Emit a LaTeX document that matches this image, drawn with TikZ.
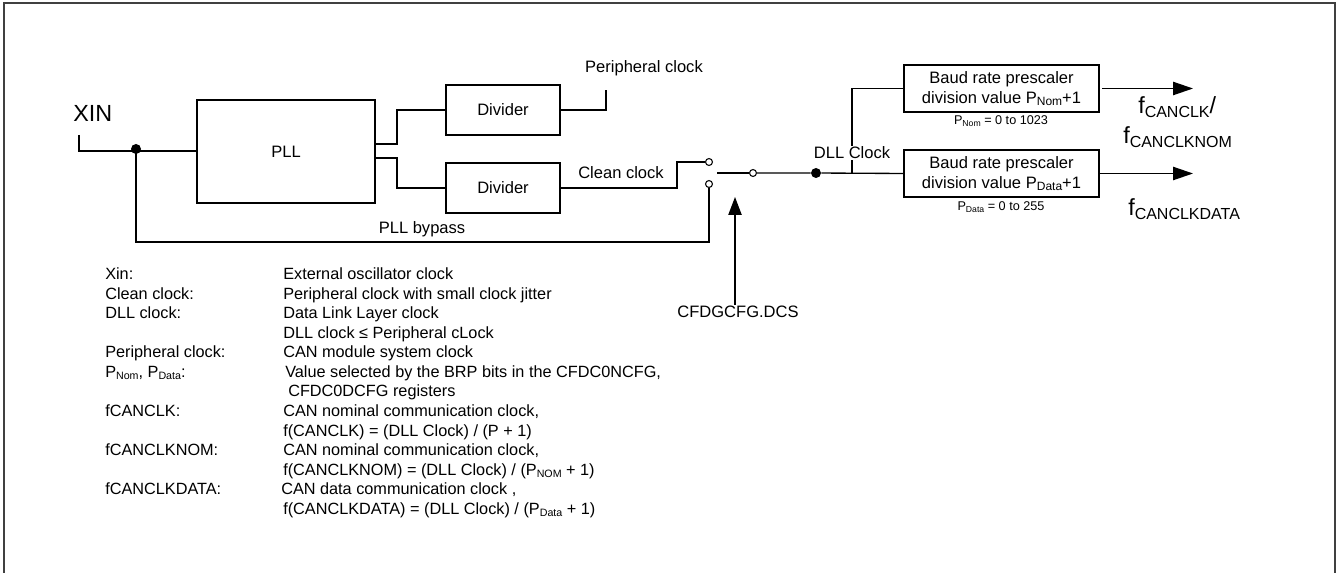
\documentclass[tikz,border=0pt]{standalone}
\usepackage{fontspec}
\setmainfont{Liberation Sans}
\usetikzlibrary{arrows.meta}
\newcommand{\lsub}[2]{\raisebox{-0.25ex}{\fontsize{#1}{#1}\selectfont #2}}
\begin{document}
\begin{tikzpicture}[x=0.75pt,y=-0.75pt,
  box/.style={draw, line width=1pt, fill=white, align=center, inner sep=0pt, font=\fontsize{12.4}{14.5}\selectfont},
  wire/.style={line width=1pt},
  lbl/.style={inner sep=1pt, font=\fontsize{12.4}{14.5}\selectfont},
  small/.style={inner sep=0pt, font=\fontsize{9.5}{11}\selectfont},
  leg/.style={anchor=base west, inner sep=0pt, font=\fontsize{12.2}{14}\selectfont},
  contact/.style={circle, draw, line width=0.8pt, fill=white, minimum size=5.2pt, inner sep=0pt},
  dot/.style={circle, fill=black, minimum size=7.5pt, inner sep=0pt},
  outlbl/.style={anchor=base west, inner sep=0pt, font=\fontsize{17.5}{19}\selectfont}
]
\useasboundingbox (0,0) rectangle (1338,573);
% frame
\draw[line width=1.5pt, black!75] (4,573) -- (4,3) -- (1335,3) -- (1335,573);

% blocks
\node[box, minimum width=133.5pt, minimum height=77.25pt] (pll) at (286,151.5) {PLL};
\node[box, minimum width=85.5pt, minimum height=37.5pt] (div1) at (503,110) {Divider};
\node[box, minimum width=85.5pt, minimum height=37.5pt] (div2) at (503,188) {Divider};
\node[box, minimum width=146.25pt, minimum height=35.25pt] (brp1) at (1001.5,88.5) {Baud rate prescaler\\division value P\lsub{9}{Nom}+1};
\node[box, minimum width=146.25pt, minimum height=35.25pt] (brp2) at (1001.5,173.5) {Baud rate prescaler\\division value P\lsub{9}{Data}+1};
\node[small] (rng1) at (1001,121) {P\lsub{6.5}{Nom} = 0 to 1023};
\node[small] (rng2) at (1001,207) {P\lsub{6.5}{Data} = 0 to 255};

% XIN input
\node[anchor=base west, inner sep=0pt, font=\fontsize{17.5}{20}\selectfont] (xin) at (73,122) {XIN};
\coordinate (xtop) at (79,135);
\coordinate (xjn) at (136,151);
\draw[wire] (xtop) -- (79,151) -- (pll.west |- xjn);
\node[dot] (jdot) at (136,149) {};

% PLL outputs
\draw[wire] (375,144) -- (397,144) -- (397,110) -- (div1.west);
\draw[wire] (375,158) -- (397,158) -- (397,188) -- (div2.west);

% Divider 1 output
\coordinate (pcend) at (606,90);
\draw[wire] (div1.east) -- (606,110) -- (pcend);
\node[lbl] (pclk) at (644,68) {Peripheral clock};

% switch contacts
\node[contact] (cup) at (709,162) {};
\node[contact] (clo) at (709,184) {};
\node[contact] (cmid) at (753,173) {};
\draw[wire] (div2.east) -- (677,188) -- (677,162) -- (cup.west);
\node[lbl] (cclk) at (621,173) {Clean clock};
\draw[wire] (xjn) -- (136,242) -- (709,242) -- (clo.south);
\node[lbl] (byp) at (422,229) {PLL bypass};
\coordinate (arm) at (717,173);
\draw[wire] (arm) -- (cmid.west);

% DLL clock
\node[dot] (ddot) at (816,173) {};
\draw[wire] (cmid.east) -- (ddot) -- (brp2.west);
\draw[wire] (852,173) -- (852,88.5) -- (brp1.west);
\node[lbl, fill=white, inner sep=0.5pt] (dll) at (852,153) {DLL Clock};

% CFDGCFG.DCS
\node[lbl] (dcs) at (738,312) {CFDGCFG.DCS};
\draw[wire, -{Triangle[length=13.5pt,width=10pt]}] (dcs.north -| 735,0) -- (735,197);

% outputs
\coordinate (o1) at (1193,88.5);
\coordinate (o2) at (1193,173.5);
\draw[wire, -{Triangle[length=15pt,width=10pt]}] (brp1.east) ++(2.5,0) -- (o1);
\draw[wire, -{Triangle[length=15pt,width=10pt]}] (brp2.east) -- (o2);
\node[outlbl] (f1) at (1138,114) {f\lsub{12}{CANCLK}/};
\node[outlbl] (f2) at (1123,144) {f\lsub{12}{CANCLKNOM}};
\node[outlbl] (f3) at (1128,216) {f\lsub{12}{CANCLKDATA}};

% legend
\node[leg] (l0) at (105,280) {Xin:};
\node[leg] (r0) at (283,280) {External oscillator clock};
\node[leg] (l1) at (105,299.5) {Clean clock:};
\node[leg] (r1) at (283,299.5) {Peripheral clock with small clock jitter};
\node[leg] (l2) at (105,319) {DLL clock:};
\node[leg] (r2) at (283,319) {Data Link Layer clock};
\node[leg] (r3) at (283,338.5) {DLL clock ≤ Peripheral cLock};
\node[leg] (l4) at (105,358) {Peripheral clock:};
\node[leg] (r4) at (283,358) {CAN module system clock};
\node[leg] (l5) at (105,377.5) {P\lsub{8}{Nom}, P\lsub{8}{Data}:};
\node[leg] (r5) at (285,377.5) {Value selected by the BRP bits in the CFDC0NCFG,};
\node[leg] (r6) at (288,397) {CFDC0DCFG registers};
\node[leg] (l7) at (105,416.5) {fCANCLK:};
\node[leg] (r7) at (283,416.5) {CAN nominal communication clock,};
\node[leg] (r8) at (283,436) {f(CANCLK) = (DLL Clock) / (P + 1)};
\node[leg] (l9) at (105,455.5) {fCANCLKNOM:};
\node[leg] (r9) at (283,455.5) {CAN nominal communication clock,};
\node[leg] (r10) at (283,475) {f(CANCLKNOM) = (DLL Clock) / (P\lsub{8}{NOM} + 1)};
\node[leg] (l11) at (105,494.5) {fCANCLKDATA:};
\node[leg] (r11) at (281,494.5) {CAN data communication clock ,};
\node[leg] (r12) at (283,514) {f(CANCLKDATA) = (DLL Clock) / (P\lsub{8}{Data} + 1)};
\end{tikzpicture}
\end{document}
